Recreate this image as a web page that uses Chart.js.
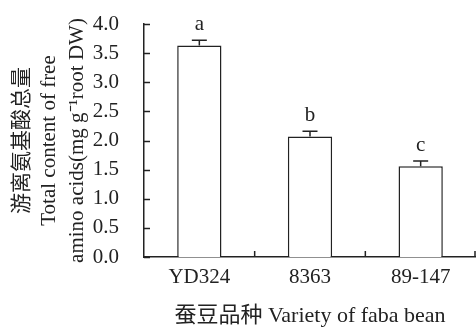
<!DOCTYPE html>
<html><head><meta charset="utf-8">
<script src="https://cdn.jsdelivr.net/npm/chart.js@4"></script>
<style>html,body{margin:0;padding:0;background:#fff}#w{width:476px;height:329px}</style>
</head><body><div id="w"><canvas id="c"></canvas></div>
<script>
const categories = ["YD324", "8363", "89-147"];
const values = [3.63, 2.07, 1.56];
const errors = [0.09, 0.09, 0.09];
const letters = ["a", "b", "c"];
const yTicks = [0, 0.5, 1, 1.5, 2, 2.5, 3, 3.5, 4];

const serif = "'Liberation Serif','DejaVu Serif',serif";
const serifCJK = "'Liberation Serif','Noto Sans CJK SC',serif";

const overlay = {
  id: 'overlay',
  afterDatasetsDraw(chart) {
    const ctx = chart.ctx, xs = chart.scales.x, ys = chart.scales.y, a = chart.chartArea;
    ctx.save();
    ctx.strokeStyle = '#222'; ctx.lineWidth = 1.5;
    yTicks.forEach(v => {
      const y = Math.round(ys.getPixelForValue(v)) + 0.5;
      ctx.beginPath(); ctx.moveTo(a.left, y); ctx.lineTo(a.left + 6, y); ctx.stroke();
    });
    for (let i = 1; i <= categories.length; i++) {
      const x = i < categories.length ? (xs.getPixelForValue(i - 1) + xs.getPixelForValue(i)) / 2 : a.right - 1;
      ctx.beginPath(); ctx.moveTo(x, a.bottom); ctx.lineTo(x, a.bottom - 6); ctx.stroke();
    }
    const meta = chart.getDatasetMeta(0);
    ctx.fillStyle = '#222';
    ctx.font = "21px " + serif;
    ctx.textAlign = 'center'; ctx.textBaseline = 'alphabetic';
    values.forEach((v, i) => {
      const x = meta.data[i].x;
      const y0 = ys.getPixelForValue(v), y1 = ys.getPixelForValue(v + errors[i]);
      ctx.beginPath(); ctx.moveTo(x, y0); ctx.lineTo(x, y1);
      ctx.moveTo(x - 7.5, y1); ctx.lineTo(x + 7.5, y1); ctx.stroke();
      ctx.fillText(letters[i], x, y1 - 10);
    });
    ctx.restore();
  }
};

new Chart(document.getElementById('c'), {
  type: 'bar',
  data: { labels: categories, datasets: [{ data: values, backgroundColor: '#fff', borderColor: '#222', borderWidth: 1.5, barPercentage: 0.4, categoryPercentage: 1 }] },
  options: {
    responsive: true, maintainAspectRatio: false, animation: false,
    layout: { padding: { top: 24, right: 0, left: 4, bottom: 0 } },
    plugins: { legend: { display: false }, tooltip: { enabled: false } },
    scales: {
      x: {
        grid: { display: false, drawTicks: false },
        border: { color: '#222', width: 1.5 },
        ticks: { color: '#222', font: { family: serif, size: 21 }, padding: 8, autoSkip: false, maxRotation: 0 },
        title: { display: true, text: '蚕豆品种 Variety of faba bean', color: '#222', font: { family: serifCJK, size: 22 }, padding: { top: 14, bottom: 0 } },
        afterFit(s) { s.height = 72; s.paddingLeft = 0; s.paddingRight = 0; }
      },
      y: {
        min: 0, max: 4,
        afterBuildTicks(s) { s.ticks = yTicks.map(v => ({ value: v })); },
        grid: { display: false, drawTicks: false },
        border: { color: '#222', width: 1.5 },
        ticks: { color: '#222', font: { family: serif, size: 21 }, padding: 25, autoSkip: false, callback: v => Number(v).toFixed(1) },
        title: { display: true, text: ['游离氨基酸总量', 'Total content of free', 'amino acids(mg g⁻¹root DW)'], color: '#222', font: { family: serifCJK, size: 21, lineHeight: 1.3 }, padding: { top: 5, bottom: 2 } },
        afterFit(s) { s.width = 140; s.paddingTop = 0; s.paddingBottom = 0; }
      }
    }
  },
  plugins: [overlay]
});
</script></body></html>
